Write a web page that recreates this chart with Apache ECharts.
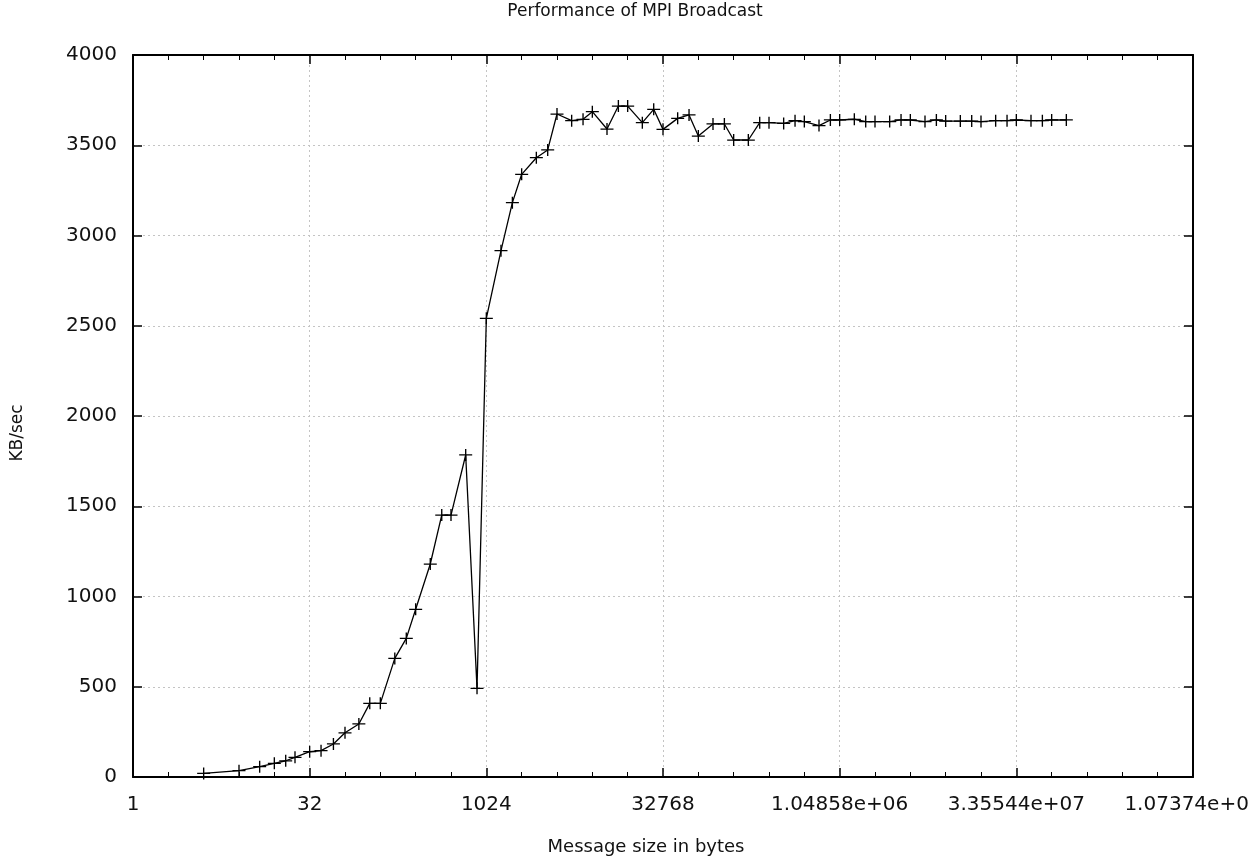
<!DOCTYPE html>
<html>
<head>
<meta charset="utf-8">
<script src="https://cdn.jsdelivr.net/npm/echarts@6/dist/echarts.min.js"></script>
<style>
html,body{margin:0;padding:0;background:#fff;}
#chart{width:1250px;height:859px;}
</style>
</head>
<body>
<div id="chart"></div>
<script>
// Message sizes in bytes (x values)
var messageSizes = [
  4, 8, 12, 16, 20, 24, 32, 40, 51, 64, 84, 104, 128,
  170, 213, 256, 341, 427, 512, 683, 853, 1024,
  1365, 1707, 2048, 2731, 3413, 4096, 5461, 6827, 8192,
  10923, 13653, 16384, 21845, 27307, 32768, 43691, 54613, 65536,
  87381, 109227, 131072, 174763, 218453, 262144, 349525, 436907, 524288,
  699051, 873813, 1048576, 1398101, 1747627, 2097152, 2796203, 3495253, 4194304,
  5592405, 6990507, 8388608, 11184811, 13981013, 16777216, 22369621, 27962027, 33554432,
  44739243, 55924053, 67108864, 89478485
];
// Throughput in KB/sec
var throughput = [
  20, 35, 57, 76, 90, 109, 140, 146, 183, 245, 294, 408, 408,
  657, 768, 929, 1180, 1451, 1451, 1784, 491, 2541,
  2916, 3182, 3339, 3431, 3474, 3673, 3636, 3644, 3686,
  3590, 3717, 3717, 3625, 3699, 3588, 3649, 3668, 3551,
  3618, 3618, 3529, 3529, 3625, 3625, 3621, 3636, 3631,
  3609, 3640, 3640, 3644, 3631, 3631, 3631, 3640, 3640,
  3631, 3640, 3634, 3634, 3634, 3631, 3636, 3636, 3640,
  3636, 3636, 3640, 3640
];
// x tick labels (every factor of 2^5)
var xTickLabels = ['1', '32', '1024', '32768', '1.04858e+06', '3.35544e+07', '1.07374e+09'];
var yTicks = [0, 500, 1000, 1500, 2000, 2500, 3000, 3500, 4000];

var FONT = 'DejaVu Sans';
var chart = echarts.init(document.getElementById('chart'), null, {renderer: 'canvas'});

var seriesData = messageSizes.map(function (s, i) { return [Math.log2(s), throughput[i]]; });

var gridLine = {show: true, lineStyle: {color: '#c4c4c4', width: 1, type: [2, 3]}};

var option = {
  backgroundColor: '#fff',
  animation: false,
  grid: {left: 133, right: 57, top: 55, bottom: 82, containLabel: false, outerBoundsMode: 'none'},
  xAxis: [{
    type: 'value', min: 0, max: 30, interval: 5, position: 'bottom',
    axisLine: {show: true, onZero: false, lineStyle: {color: '#000', width: 2}},
    axisTick: {show: true, inside: true, length: 9, lineStyle: {color: '#000', width: 1.5}},
    minorTick: {show: true, splitNumber: 5, length: 5, lineStyle: {color: '#000', width: 1}},
    splitLine: gridLine,
    axisLabel: {
      show: true, margin: 18, color: '#111', fontFamily: FONT, fontSize: 20,
      showMinLabel: true, showMaxLabel: true, hideOverlap: false,
      formatter: function (v) { var i = Math.round(v / 5); return xTickLabels[i] || ''; }
    }
  }, {
    type: 'value', min: 0, max: 30, interval: 5, position: 'top',
    axisLine: {show: true, onZero: false, lineStyle: {color: '#000', width: 2}},
    axisTick: {show: true, inside: true, length: 9, lineStyle: {color: '#000', width: 1.5}},
    minorTick: {show: true, splitNumber: 5, length: 5, lineStyle: {color: '#000', width: 1}},
    splitLine: {show: false},
    axisLabel: {show: false}
  }],
  yAxis: [{
    type: 'value', min: 0, max: 4000, interval: 500, position: 'left',
    axisLine: {show: true, onZero: false, lineStyle: {color: '#000', width: 2}},
    axisTick: {show: true, inside: true, length: 9, lineStyle: {color: '#000', width: 1.5}},
    splitLine: gridLine,
    axisLabel: {show: true, margin: 16, color: '#111', fontFamily: FONT, fontSize: 20,
      formatter: function (v) { return yTicks.indexOf(v) >= 0 ? String(v) : ''; }}
  }, {
    type: 'value', min: 0, max: 4000, interval: 500, position: 'right',
    axisLine: {show: true, onZero: false, lineStyle: {color: '#000', width: 2}},
    axisTick: {show: true, inside: true, length: 9, lineStyle: {color: '#000', width: 1.5}},
    splitLine: {show: false},
    axisLabel: {show: false}
  }],
  series: [{
    type: 'line',
    xAxisIndex: 0, yAxisIndex: 0,
    data: seriesData,
    showSymbol: true,
    showAllSymbol: true,
    symbol: 'path://M0,5L10,5M5,0L5,10',
    symbolSize: [13, 12],
    itemStyle: {color: 'rgba(0,0,0,0)', borderColor: '#000', borderWidth: 1.3},
    lineStyle: {color: '#000', width: 1.3},
    emphasis: {disabled: true},
    z: 5
  }],
  graphic: [
    {type: 'text', x: 635, y: 12, style: {text: 'Performance of MPI Broadcast', fontFamily: FONT, fontSize: 17, fill: '#111', align: 'center', verticalAlign: 'middle'}},
    {type: 'text', x: 646, y: 847, style: {text: 'Message size in bytes', fontFamily: FONT, fontSize: 18, fill: '#111', align: 'center', verticalAlign: 'middle'}},
    {type: 'text', x: 18, y: 433, rotation: Math.PI / 2, style: {text: 'KB/sec', fontFamily: FONT, fontSize: 17, fill: '#111', align: 'center', verticalAlign: 'middle'}}
  ]
};
chart.setOption(option);
</script>
</body>
</html>
